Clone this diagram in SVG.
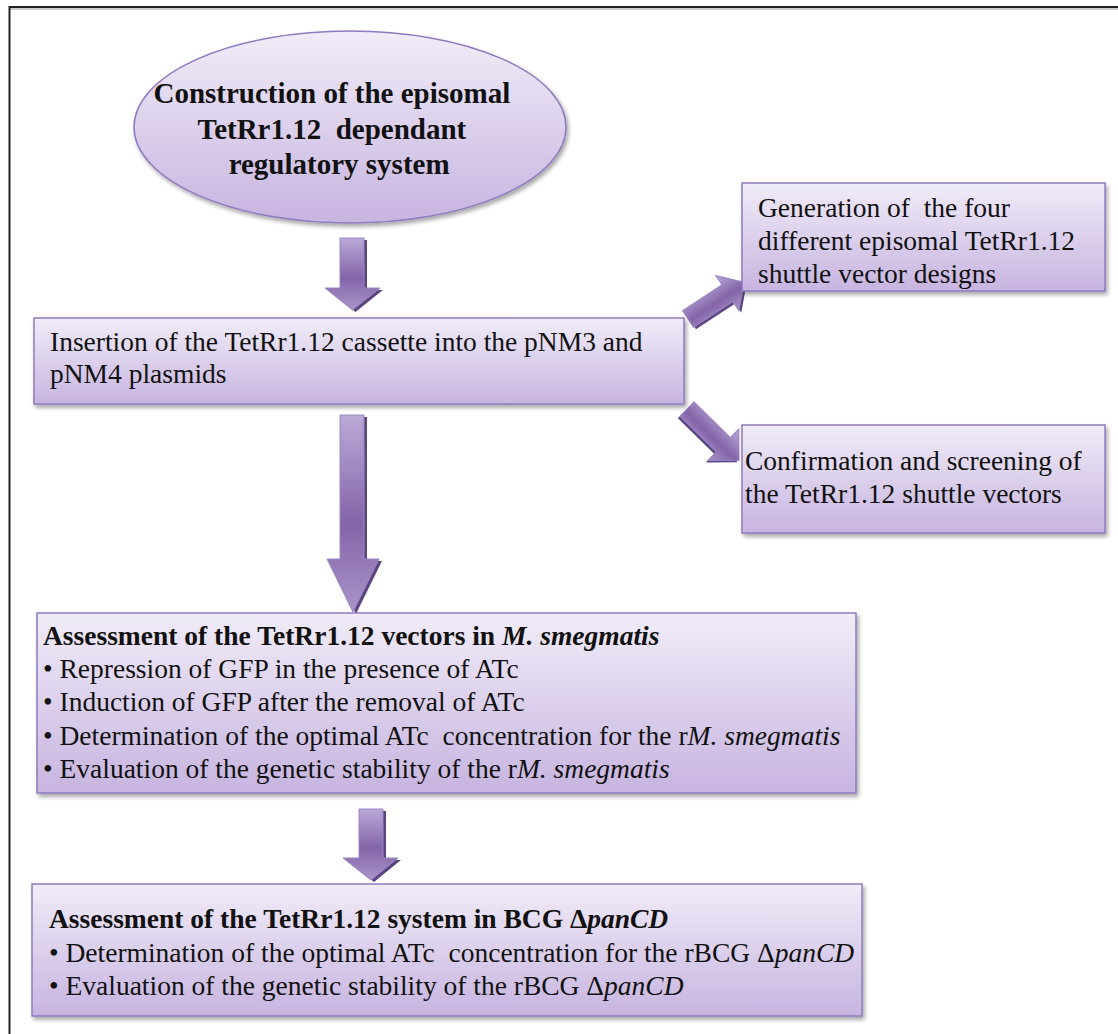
<svg xmlns="http://www.w3.org/2000/svg" width="1118" height="1034" viewBox="0 0 1118 1034">
<style>
  text { font-family: "Liberation Serif", "Times New Roman", serif; fill: #111; white-space: pre; }
  .t { font-size: 27.5px; }
  .b { font-weight: bold; }
  .e { font-size: 29px; font-weight: bold; }
  .i { font-style: italic; }
  .box { fill: url(#gBox); stroke: #8f7bbf; stroke-width: 1.5; }
  .arr { fill: url(#gArrow); stroke: #9a86c4; stroke-width: 1; }
  .ash { fill: #5b4682; }
  .frame { stroke: #222; stroke-width: 2; fill: none; }
</style>
<defs>
  <linearGradient id="gBox" x1="0" y1="0" x2="0" y2="1">
    <stop offset="0" stop-color="#f1ecf8"/>
    <stop offset="1" stop-color="#c7b4e0"/>
  </linearGradient>
  <linearGradient id="gArrow" x1="0" y1="0" x2="0" y2="1">
    <stop offset="0" stop-color="#baa9d7"/>
    <stop offset="0.55" stop-color="#8465a8"/>
    <stop offset="1" stop-color="#a994c9"/>
  </linearGradient>
  <filter id="sh" x="-10%" y="-10%" width="125%" height="135%">
    <feDropShadow dx="2" dy="3" stdDeviation="2" flood-color="#000" flood-opacity="0.35"/>
  </filter>
</defs>

<g id="frame">
  <line class="frame" x1="9" y1="7" x2="1118" y2="7"/>
  <line x1="9" y1="9" x2="1118" y2="9" stroke="#bbb" stroke-width="1.5"/>
  <line class="frame" x1="9.5" y1="6" x2="9.5" y2="1034"/>
</g>

<g id="connectors">
  <g id="arrow1">
    <path class="ash" d="M343,240 H367 V290 H383 L355.5,312 L328,290 H343 Z"/>
    <path class="arr" d="M340,238 H364 V288 H380 L352.5,310 L325,288 H340 Z"/>
  </g>
  <g id="arrow2">
    <path class="ash" d="M343,417 H367 V561 H382 L356,614 L330,561 H343 Z"/>
    <path class="arr" d="M340,415 H364 V559 H379 L353,612 L327,559 H340 Z"/>
  </g>
  <g id="arrow3">
    <path class="ash" d="M362,811 H386 V860 H401 L374,882 L346,860 H362 Z"/>
    <path class="arr" d="M359,809 H383 V858 H398 L371,880 L343,858 H359 Z"/>
  </g>
  <g id="arrow-up-right" transform="translate(688,319) rotate(-33.3)">
    <path class="ash" transform="translate(1,3)" d="M0,-10 H47 V-21 L67,0 L47,21 V10 H0 Z"/>
    <path class="arr" d="M0,-10 H47 V-21 L67,0 L47,21 V10 H0 Z"/>
  </g>
  <g id="arrow-down-right" transform="translate(687,409) rotate(44.5)">
    <path class="ash" transform="translate(0,3)" d="M0,-10 H51 V-22 L73,0 L51,22 V10 H0 Z"/>
    <path class="arr" d="M0,-10 H51 V-22 L73,0 L51,22 V10 H0 Z"/>
  </g>
</g>

<g id="node-construction">
  <ellipse cx="350" cy="127" rx="216" ry="96" class="box" filter="url(#sh)"/>
  <text class="e" text-anchor="middle">
    <tspan x="350" y="103">Construction of the episomal</tspan>
    <tspan x="350" y="139">TetRr1.12  dependant</tspan>
    <tspan x="350" y="174">regulatory system</tspan>
  </text>
</g>

<g id="node-insertion">
  <rect x="34" y="318" width="650" height="86" class="box" filter="url(#sh)"/>
  <text class="t">
    <tspan x="50" y="351">Insertion of the TetRr1.12 cassette into the pNM3 and</tspan>
    <tspan x="50" y="383">pNM4 plasmids</tspan>
  </text>
</g>

<g id="node-generation">
  <rect x="742" y="183" width="363" height="108" class="box" filter="url(#sh)"/>
  <text class="t">
    <tspan x="758" y="217">Generation of  the four</tspan>
    <tspan x="758" y="250">different episomal TetRr1.12</tspan>
    <tspan x="758" y="283">shuttle vector designs</tspan>
  </text>
</g>

<g id="node-confirmation">
  <rect x="742" y="425" width="363" height="108" class="box" filter="url(#sh)"/>
  <text class="t">
    <tspan x="745" y="470">Confirmation and screening of</tspan>
    <tspan x="745" y="503">the TetRr1.12 shuttle vectors</tspan>
  </text>
</g>

<g id="node-smegmatis">
  <rect x="37" y="613" width="819" height="180" class="box" filter="url(#sh)"/>
  <text class="t">
    <tspan x="43" y="645" class="b">Assessment of the TetRr1.12 vectors in <tspan class="i">M. smegmatis</tspan></tspan>
    <tspan x="43" y="678">• Repression of GFP in the presence of ATc</tspan>
    <tspan x="43" y="711">• Induction of GFP after the removal of ATc</tspan>
    <tspan x="43" y="745">• Determination of the optimal ATc  concentration for the r<tspan class="i">M. smegmatis</tspan></tspan>
    <tspan x="43" y="778">• Evaluation of the genetic stability of the r<tspan class="i">M. smegmatis</tspan></tspan>
  </text>
</g>

<g id="node-bcg">
  <rect x="32" y="884" width="830" height="132" class="box" filter="url(#sh)"/>
  <text class="t">
    <tspan x="49" y="928" class="b">Assessment of the TetRr1.12 system in BCG Δ<tspan class="i">panCD</tspan></tspan>
    <tspan x="49" y="962">• Determination of the optimal ATc  concentration for the rBCG Δ<tspan class="i">panCD</tspan></tspan>
    <tspan x="49" y="995">• Evaluation of the genetic stability of the rBCG Δ<tspan class="i">panCD</tspan></tspan>
  </text>
</g>
</svg>
